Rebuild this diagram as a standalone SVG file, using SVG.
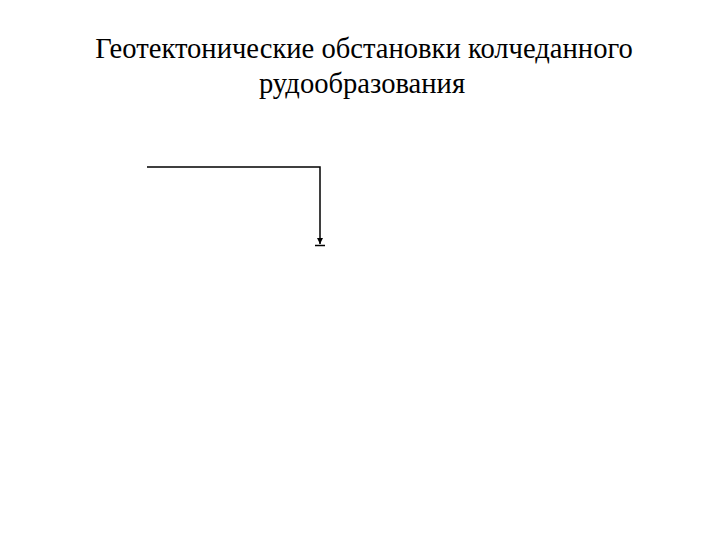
<svg xmlns="http://www.w3.org/2000/svg" width="720" height="540" viewBox="0 0 720 540">
<style>
.t{font-family:"Liberation Serif","Times New Roman","DejaVu Serif",serif;font-size:28.6px;fill:#000;text-anchor:middle}
.c{fill:none;stroke:#000;stroke-width:1.5}
</style>
<defs>
<marker id="ah" markerWidth="8" markerHeight="8" refX="7" refY="4" orient="auto" markerUnits="userSpaceOnUse">
<path d="M1,1 L7,4 L1,7 Z" fill="#000"/>
</marker>
</defs>
<rect width="720" height="540" fill="#fff"/>
<g id="title">
<text class="t" x="364" y="58">Геотектонические обстановки колчеданного</text>
<text class="t" x="362" y="93">рудообразования</text>
</g>
<g id="connectors">
<path class="c" d="M147,167 H320 V244" marker-end="url(#ah)"/>
<line x1="315" y1="245.5" x2="325" y2="245.5" stroke="#000" stroke-width="1.5"/>
</g>
</svg>
